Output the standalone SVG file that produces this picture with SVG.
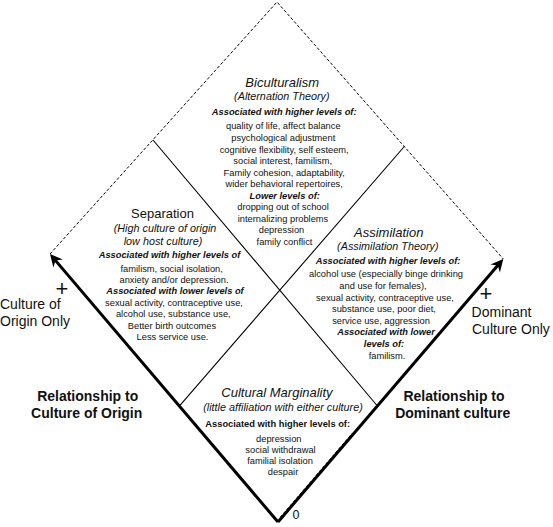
<svg xmlns="http://www.w3.org/2000/svg" width="553" height="527" viewBox="0 0 553 527">
<style>
text{font-family:"Liberation Sans",Arial,Helvetica,sans-serif;fill:#111}
.m{text-anchor:middle}
.title{font-size:13px}
.it{font-style:italic}
.sub{font-size:10.8px;font-style:italic}
.body{font-size:9.3px}
.bi{font-size:9.3px;font-weight:bold;font-style:italic}
.bb{font-size:9.3px;font-weight:bold}
.lab{font-size:14px}
.axis{font-size:14px;font-weight:bold}
.plus{font-size:22px}
.thick{stroke:#000;stroke-width:3;fill:none}
.thin{stroke:#000;stroke-width:1.1;fill:none}
.dash{stroke:#000;stroke-width:1;fill:none;stroke-dasharray:3 2}
</style>
<defs>
<marker id="arrow" markerUnits="userSpaceOnUse" markerWidth="16" markerHeight="14" refX="8" refY="7" orient="auto" overflow="visible">
<path d="M14,7 L1.5,0.8 L5.5,7 L1.5,13.2 Z" fill="#000"/>
</marker>
</defs>
<rect width="553" height="527" fill="#fff"/>
<g id="connectors">
<path class="dash" d="M50,254 L277,2 L503.3,259"/>
<line class="thin" x1="153" y1="140" x2="377" y2="405.5"/>
<line class="thin" x1="404.3" y1="146.5" x2="179.1" y2="406.4"/>
<line class="thick" x1="278" y1="522" x2="53.9" y2="258.6" marker-end="url(#arrow)"/>
<line class="thick" x1="278" y1="522" x2="499.4" y2="263.6" marker-end="url(#arrow)"/>
<line class="dash" x1="280.2" y1="517.3" x2="352.3" y2="433.2" stroke-dasharray="2 2"/>
</g>
<g id="biculturalism">
<text class="title it m" x="282.2" y="87">Biculturalism</text>
<text class="sub m" x="281.8" y="99.5">(Alternation Theory)</text>
<text class="bi m" x="284.2" y="114.5">Associated with higher levels of:</text>
<text class="body m" x="283.3" y="129">quality of life, affect balance</text>
<text class="body m" x="283.3" y="141">psychological adjustment</text>
<text class="body m" x="284.2" y="152.5">cognitive flexibility, self esteem,</text>
<text class="body m" x="282.7" y="164">social interest, familism,</text>
<text class="body m" x="284.2" y="175.5">Family cohesion, adaptability,</text>
<text class="body m" x="284.2" y="187">wider behavioral repertoires,</text>
<text class="bi m" x="284.7" y="198.5">Lower levels of:</text>
<text class="body m" x="283" y="210">dropping out of school</text>
<text class="body m" x="283" y="221.5">internalizing problems</text>
<text class="body m" x="281.5" y="233">depression</text>
<text class="body m" x="284.5" y="244.5">family conflict</text>
</g>
<g id="separation">
<text class="title m" x="162.5" y="218">Separation</text>
<text class="sub m" x="165" y="231.5">(High culture of origin</text>
<text class="sub m" x="163" y="245">low host culture)</text>
<text class="bi m" x="169.5" y="258">Associated with higher levels of</text>
<text class="body m" x="171.7" y="271.5">familism, social isolation,</text>
<text class="body m" x="174" y="283">anxiety and/or depression.</text>
<text class="bi m" x="175" y="294">Associated with lower levels of</text>
<text class="body m" x="174" y="305.5">sexual activity, contraceptive use,</text>
<text class="body m" x="173.3" y="317">alcohol use, substance use,</text>
<text class="body m" x="172" y="328.5">Better birth outcomes</text>
<text class="body m" x="172.5" y="340">Less service use.</text>
</g>
<g id="assimilation">
<text class="title it m" x="388.7" y="236.5">Assimilation</text>
<text class="sub m" x="387.8" y="250">(Assimilation Theory)</text>
<text class="bi m" x="388" y="264">Associated with higher levels of:</text>
<text class="body m" x="386" y="277">alcohol use (especially binge drinking</text>
<text class="body m" x="383" y="288.5">and use for females),</text>
<text class="body m" x="385" y="300.5">sexual activity, contraceptive use,</text>
<text class="body m" x="384" y="312">substance use, poor diet,</text>
<text class="body m" x="381" y="323.5">service use, aggression</text>
<text class="bi m" x="386" y="335">Associated with lower</text>
<text class="bi m" x="384" y="346.5">levels of:</text>
<text class="body m" x="387" y="358.5">familism.</text>
</g>
<g id="marginality">
<text class="title it m" x="277" y="397">Cultural Marginality</text>
<text class="sub m" x="283" y="410.5">(little affiliation with either culture)</text>
<text class="bb m" x="277.7" y="427">Associated with higher levels of:</text>
<text class="body m" x="278.8" y="441.5">depression</text>
<text class="body m" x="280.5" y="452.5">social withdrawal</text>
<text class="body m" x="280" y="463.5">familial isolation</text>
<text class="body m" x="283" y="475">despair</text>
</g>
<g id="label-origin-only">
<text class="plus m" x="62" y="295.8">+</text>
<text class="lab" x="0" y="309">Culture of</text>
<text class="lab" x="0" y="326">Origin Only</text>
</g>
<g id="label-dominant-only">
<text class="plus m" x="486" y="301">+</text>
<text class="lab" x="471.6" y="317">Dominant</text>
<text class="lab" x="472" y="334">Culture Only</text>
</g>
<g id="axis-origin">
<text class="axis m" x="87.7" y="401">Relationship to</text>
<text class="axis m" x="86.7" y="418">Culture of Origin</text>
</g>
<g id="axis-dominant">
<text class="axis m" x="454" y="401">Relationship to</text>
<text class="axis m" x="452.7" y="418">Dominant culture</text>
</g>
<g id="zero">
<text x="292.5" y="519" style="font-size:12.5px">0</text>
</g>
</svg>
